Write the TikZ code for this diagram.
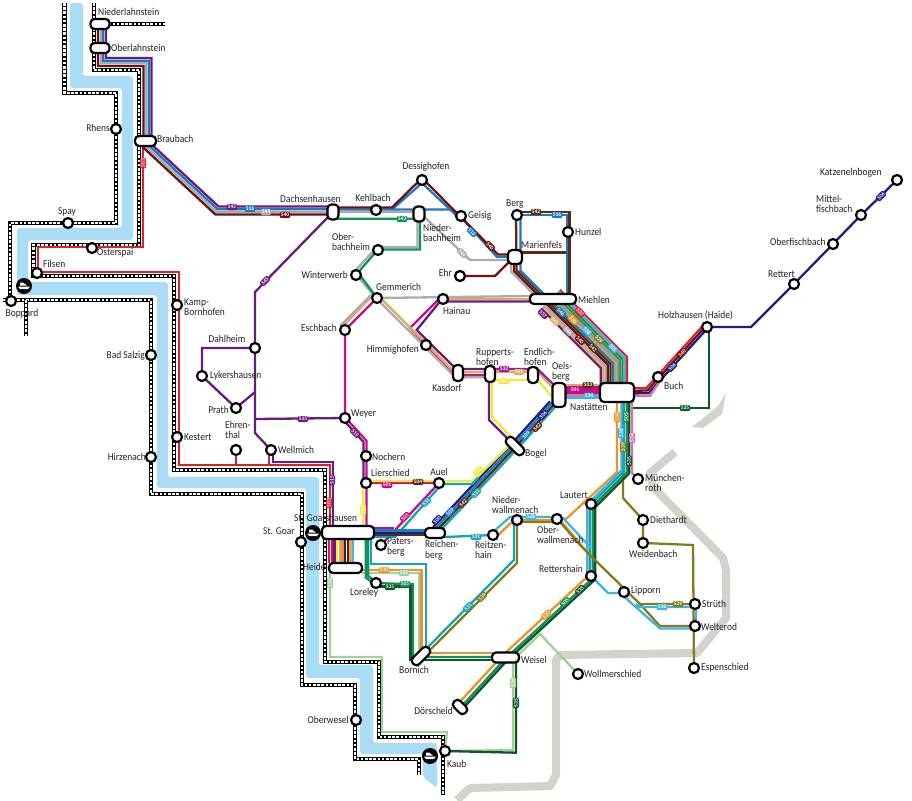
\documentclass[tikz,border=0pt]{standalone}
\usepackage{fontspec}
\setmainfont[FakeStretch=0.9]{Carlito}
\newfontfamily\pillfont{Carlito}
\definecolor{cRc}{HTML}{E2202C}\definecolor{cPc}{HTML}{6A1B80}\definecolor{cBc}{HTML}{1F78BC}
\definecolor{cGc}{HTML}{A9ABAE}\definecolor{cDc}{HTML}{6B1212}\definecolor{cDBc}{HTML}{5B2A14}
\definecolor{cGrc}{HTML}{12915A}\definecolor{cDGc}{HTML}{0E5528}\definecolor{cPGc}{HTML}{A3CF98}
\definecolor{cOc}{HTML}{EE9328}\definecolor{cTc}{HTML}{DDAB63}\definecolor{cSc}{HTML}{3DB5E0}
\definecolor{cTec}{HTML}{17A2B8}\definecolor{cNc}{HTML}{1C1F80}\definecolor{cBlc}{HTML}{1A80C8}
\definecolor{cYc}{HTML}{F2EA38}\definecolor{cMc}{HTML}{C90F80}\definecolor{cPkc}{HTML}{DF6FA8}
\definecolor{cOlc}{HTML}{857A1C}\definecolor{cPuc}{HTML}{A01C90}\definecolor{river}{HTML}{A9DDF6}
\definecolor{land}{HTML}{D3D2CC}\definecolor{ink}{HTML}{222222}
\pgfdeclarelayer{front}\pgfsetlayers{main,front}
\tikzset{
 lw/.style={line width=2.3pt,line join=miter,miter limit=6},
 cR/.style={lw,draw=cRc,line width=2pt},cP/.style={lw,draw=cPc},cB/.style={lw,draw=cBc},
 cG/.style={lw,draw=cGc},cD/.style={lw,draw=cDc},cDB/.style={lw,draw=cDBc},
 cGr/.style={lw,draw=cGrc},cDG/.style={lw,draw=cDGc},cPG/.style={lw,draw=cPGc},
 cO/.style={lw,draw=cOc},cT/.style={lw,draw=cTc},cS/.style={lw,draw=cSc},
 cTe/.style={lw,draw=cTec},cN/.style={lw,draw=cNc},cBl/.style={lw,draw=cBlc},
 cY/.style={lw,draw=cYc},cM/.style={lw,draw=cMc},cPk/.style={lw,draw=cPkc},
 cOl/.style={lw,draw=cOlc},cPu/.style={lw,draw=cPuc},
 railb/.style={draw=black,line width=4.8pt,line join=miter},
 railw/.style={draw=white,line width=2.2pt,dash pattern=on 2.6pt off 1.6pt},
 stn/.style={circle,draw=black,fill=white,line width=2.2pt,minimum size=10pt,inner sep=0pt},
 capn/.style={rectangle,rounded corners=4pt,draw=black,fill=white,line width=2.2pt,inner sep=0pt},
 lab/.style={inner sep=0pt,align=left,text=ink,font=\fontsize{10.5}{10.5}\selectfont},
 pill/.style={rectangle,rounded corners=2pt,inner sep=1.2pt,text=white,font=\pillfont\fontsize{5.5}{5.5}\selectfont\bfseries},
 landl/.style={draw=land,line width=8pt,line join=round},
}
\makeatletter
\newcount\rN
\newcount\plc
\newcommand\route[3]{%
 \global\rN=0
 \foreach \rP in {#3}{%
  \global\advance\rN by 1
  \expandafter\tikz@scan@one@point\expandafter\pgfutil@firstofone\rP\relax
  \expandafter\xdef\csname rX\the\rN\endcsname{\strip@pt\pgf@x}%
  \expandafter\xdef\csname rY\the\rN\endcsname{\strip@pt\pgf@y}%
 }%
 \edef\rLast{\the\rN}%
 \gdef\rPath{}%
 \foreach \rI in {1,...,\rLast}{%
  \pgfmathtruncatemacro\ra{max(\rI,2)}%
  \pgfmathtruncatemacro\rap{\ra-1}%
  \pgfmathtruncatemacro\rb{min(\rI+1,\rLast)}%
  \pgfmathtruncatemacro\rbp{\rb-1}%
  \edef\xa{\csname rX\ra\endcsname}\edef\xb{\csname rX\rap\endcsname}%
  \edef\ya{\csname rY\ra\endcsname}\edef\yb{\csname rY\rap\endcsname}%
  \edef\xc{\csname rX\rb\endcsname}\edef\xd{\csname rX\rbp\endcsname}%
  \edef\yc{\csname rY\rb\endcsname}\edef\yd{\csname rY\rbp\endcsname}%
  \edef\xi{\csname rX\rI\endcsname}\edef\yi{\csname rY\rI\endcsname}%
  \pgfmathsetmacro\ux{(\xa)-(\xb)}\pgfmathsetmacro\uy{(\ya)-(\yb)}%
  \pgfmathsetmacro\vx{(\xc)-(\xd)}\pgfmathsetmacro\vy{(\yc)-(\yd)}%
  \pgfmathsetmacro\lu{veclen(\ux,\uy)}\pgfmathsetmacro\lv{veclen(\vx,\vy)}%
  \pgfmathsetmacro\nax{-(\uy)/\lu}\pgfmathsetmacro\nay{(\ux)/\lu}%
  \pgfmathsetmacro\nbx{-(\vy)/\lv}\pgfmathsetmacro\nby{(\vx)/\lv}%
  \pgfmathsetmacro\rk{(#1)/(1+(\nax)*(\nbx)+(\nay)*(\nby))}%
  \pgfmathsetmacro\fx{(\xi)+(\rk)*((\nax)+(\nbx))}%
  \pgfmathsetmacro\fy{(\yi)+(\rk)*((\nay)+(\nby))}%
  \xdef\rPath{\rPath\ifnum\rI=1 \else -- \fi(\fx pt,\fy pt) }%
 }%
 \edef\rTmp{\noexpand\draw[#2] \rPath;}\rTmp
}
\makeatother
\newcommand\bundle[2]{\foreach \rO/\rS in {#1}{\route{\rO}{\rS}{#2}}}
\newcommand\rail[1]{\route{0}{railb}{#1}\route{0}{railw}{#1}}
\newcommand\st[3]{\node[stn] (#1) at (#2,#3) {};}
\newcommand\cp[6][0]{\node[capn,minimum width=#5pt,minimum height=#6pt,rotate=#1] (#2) at (#3,#4) {};}
\newcommand\tl[5]{\node[lab,anchor=#2] (t#1) at (#3,#4) {#5};}
\newcommand\pl[5][0]{\global\advance\plc by 1 \node[pill,fill=#5c,rotate=#1] (p\the\plc) at (#2,#3) {#4};}
\newcommand\ship[3]{\node[circle,fill=black,minimum size=16pt,inner sep=0pt] (#1) at (#2,#3) {};
 \fill[white,shift={(#2,#3)}] (-6,0.5)--(6,0.5)--(4,3)--(-4,3)--cycle (-4,-3.5)--(-1,-3.5)--(3,-0.4)--(-4,-0.4)--cycle;}
\begin{document}
\begin{tikzpicture}[x=1pt,y=-1pt]
\useasboundingbox (0,0) rectangle (912,800);
\fill[white] (0,0) rectangle (912,800);
% ---------- stations and labels (front layer)
\begin{pgfonlayer}{front}
\cp{nieder}{100}{24}{19}{10}\cp{ober}{100}{48}{19}{10}\cp{braubach}{145.5}{141}{21}{10}
\st{rhens}{116}{129}\st{spay}{68}{223}\st{osterspai}{92}{248}\st{filsen}{37}{273}\st{boppard}{11}{301}
\st{kamp}{177}{305}\st{salzig}{151}{355}\st{hirzenach}{151}{457}\st{kestert}{177}{437}
\st{dahlheim}{255}{348}\st{lyker}{202}{376}\st{prath}{236}{408}\st{ehrenthal}{236}{450}\st{wellmich}{271}{450}
\cp{dachsen}{333}{212}{11}{15}\st{kehlbach}{376}{210}\st{dessig}{422}{180}\cp{nbach}{419}{214}{11}{15}
\st{geisig}{461}{216}\st{berg}{517}{215}\st{hunzel}{568}{232}\cp{marien}{515}{257}{14}{14}\st{ehr}{460}{276}
\st{obach}{378}{250}\st{winter}{356}{275}\st{gemm}{377}{298}\st{hainau}{443}{299}\st{eschbach}{345}{330}
\st{himmig}{426}{345}\cp{kasdorf}{458}{373}{10}{16}\cp{rupp}{490}{374}{10}{16}\cp{endlich}{533}{375}{10}{16}
\cp{oels}{559}{395}{13}{24}\cp{miehlen}{553}{299}{46}{10}\cp{nast}{617}{392.5}{34}{19}
\st{weyer}{345}{418}\st{nochern}{366}{456}\st{lier}{366}{483}\st{auel}{439}{483}
\cp{goars}{348}{532.5}{52}{13}\st{sgoar}{301}{542}\cp{heide}{345.5}{568}{33}{10}\st{loreley}{376}{583}
\st{paters}{381}{545}\cp{reichen}{435}{533}{20}{10}\st{reitzen}{493}{535}\st{nwall}{517}{520}\st{owall}{557}{519}
\st{lautert}{591}{504}\st{retters}{591}{576}\st{lipporn}{624}{592}\st{strueth}{695}{604}\st{welterod}{695}{626}
\st{espen}{694}{668}\st{diet}{643}{520}\st{weiden}{643}{543}\st{muench}{638}{479}\st{buch}{658}{377}
\st{holz}{707}{327}\st{rettert}{794}{284}\st{ofisch}{833}{244}\st{mfisch}{861}{215}\st{katz}{897}{180}
\cp[-45]{bogel}{515}{446}{22}{9}\cp[45]{bornich}{421}{656}{22}{9}\cp{weisel}{505.5}{657.5}{27}{10}
\cp[-45]{doersch}{460}{707}{16}{9}\st{wollm}{578}{674}\st{kaub}{445}{751}\st{oberwesel}{356}{720}
\ship{shipa}{24}{286}\ship{shipb}{313}{533}\ship{shipc}{430}{756}
\tl{a1}{west}{98}{12}{Niederlahnstein}\tl{a2}{west}{111}{48}{Oberlahnstein}\tl{a3}{east}{110}{128}{Rhens}
\tl{a4}{west}{157}{139}{Braubach}\tl{a5}{center}{67}{212}{Spay}\tl{a6}{west}{97}{253}{Osterspai}
\tl{a7}{west}{43}{264}{Filsen}\tl{a8}{center}{22}{314}{Boppard}\tl{a9}{west}{184}{307}{Kamp-\\Bornhofen}
\tl{b1}{east}{145}{356}{Bad Salzig}\tl{b2}{east}{146}{457}{Hirzenach}\tl{b3}{west}{184}{437}{Kestert}
\tl{b4}{center}{227}{339}{Dahlheim}\tl{b5}{west}{210}{376}{Lykershausen}\tl{b6}{east}{229}{410}{Prath}
\tl{b7}{west}{225}{430}{Ehren-\\thal}\tl{b8}{west}{278}{450}{Wellmich}\tl{b9}{west}{280}{199}{Dachsenhausen}
\tl{c1}{center}{373}{198}{Kehlbach}\tl{c2}{center}{426}{167}{Dessighofen}\tl{c3}{west}{468}{216}{Geisig}
\tl{c4}{west}{423}{233}{Nieder-\\bachheim}\tl{c5}{west}{332}{242}{Ober-\\bachheim}\tl{c6}{east}{348}{275}{Winterwerb}
\tl{c7}{west}{376}{287}{Gemmerich}\tl{c8}{west}{443}{311}{Hainau}\tl{c9}{east}{337}{328}{Eschbach}
\tl{d1}{east}{419}{350}{Himmighofen}\tl{d2}{center}{447}{388}{Kasdorf}\tl{d3}{west}{476}{357}{Rupperts-\\hofen}
\tl{d4}{west}{524}{357}{Endlich-\\hofen}\tl{d5}{west}{552}{372}{Oels-\\berg}\tl{d6}{west}{570}{407}{Nastätten}
\tl{d7}{west}{578}{300}{Miehlen}\tl{d8}{west}{506}{204}{Berg}\tl{d9}{west}{575}{232}{Hunzel}
\tl{e1}{west}{521}{245}{Marienfels}\tl{e2}{east}{452}{273}{Ehr}\tl{e3}{west}{351}{414}{Weyer}
\tl{e4}{west}{372}{457}{Nochern}\tl{e5}{west}{371}{473}{Lierschied}\tl{e6}{center}{439}{472}{Auel}
\tl{e7}{west}{525}{454}{Bogel}\tl{e8}{west}{664}{386}{Buch}\tl{e9}{west}{658}{315}{Holzhausen (Haide)}
\tl{f1}{west}{820}{173}{Katzenelnbogen}\tl{f2}{west}{816}{204}{Mittel-\\fischbach}\tl{f3}{west}{770}{242}{Oberfischbach}
\tl{f4}{west}{768}{274}{Rettert}\tl{f5}{west}{294}{518}{St. Goarshausen}\tl{f6}{west}{263}{531}{St. Goar}
\tl{f7}{west}{303}{567}{Heide}\tl{f8}{west}{350}{593}{Loreley}\tl{f9}{west}{387}{547}{Paters-\\berg}
\tl{g1}{west}{425}{550}{Reichen-\\berg}\tl{g2}{west}{475}{550}{Reitzen-\\hain}\tl{g3}{west}{492}{505}{Nieder-\\wallmenach}
\tl{g4}{west}{537}{535}{Ober-\\wallmenach}\tl{g5}{center}{574}{495}{Lautert}\tl{g6}{west}{539}{569}{Rettershain}
\tl{g7}{west}{631}{591}{Lipporn}\tl{g8}{west}{702}{604}{Strüth}\tl{g9}{west}{701}{627}{Welterod}
\tl{h1}{west}{701}{668}{Espenschied}\tl{h2}{west}{650}{520}{Diethardt}\tl{h3}{west}{629}{554}{Weidenbach}
\tl{h4}{west}{645}{483}{München-\\roth}\tl{h5}{west}{584}{674}{Wollmerschied}\tl{h6}{west}{521}{660}{Weisel}
\tl{h7}{center}{414}{670}{Bornich}\tl{h8}{east}{453}{711}{Dörscheid}\tl{h9}{east}{349}{720}{Oberwesel}
\tl{i1}{west}{447}{764}{Kaub}
% route labels
\pl[90]{143}{163}{503}{cR}\pl[90]{329}{503}{503}{cR}\pl[90]{332}{480}{515}{cP}
\pl{232}{207}{545}{cP}\pl{250}{209}{516}{cB}\pl{266}{212}{544}{cG}\pl{285}{215}{540}{cD}
\pl[45]{265}{281}{545}{cP}\pl{303}{419}{515}{cP}\pl[-45]{355}{433}{515}{cP}
\pl{402}{219}{543}{cGr}\pl[-45]{472}{232}{516}{cB}\pl[-45]{490}{246}{540}{cD}\pl[-45]{462}{253}{544}{cG}
\pl{536}{212}{542}{cDB}\pl{557}{215}{516}{cB}\pl{504}{369}{532}{cPu}\pl{519}{372}{541}{cT}\pl{504}{381}{507}{cY}
\pl{588}{385}{503}{cDB}\pl{575}{390}{501}{cM}\pl{589}{396}{534}{cS}
\pl[-45]{580}{312}{533}{cR}\pl[-45]{543}{314}{537}{cP}\pl[-45]{555}{321}{541}{cT}\pl[-45]{568}{331}{544}{cG}
\pl[-45]{580}{340}{540}{cD}\pl[-45]{593}{348}{542}{cDB}\pl[-45]{561}{312}{546}{cB}\pl[-45]{573}{320}{530}{cO}
\pl[-45]{587}{331}{538}{cS}\pl[-45]{599}{339}{539}{cOl}\pl[-45]{613}{348}{505}{cS}
\pl[90]{617}{417}{530}{cO}\pl[90]{626}{417}{505}{cGr}\pl[90]{621}{433}{538}{cS}\pl[90]{623}{447}{539}{cOl}
\pl[90]{632}{438}{534}{cPk}\pl[90]{629}{461}{535}{cDG}
\pl[45]{672}{367}{506}{cN}\pl[45]{682}{353}{540}{cD}\pl{685}{408}{535}{cDG}\pl[45]{881}{196}{506}{cN}
\pl[90]{363}{510}{507}{cY}\pl{387}{485}{501}{cM}\pl{418}{482}{504}{cDB}
\pl[45]{405}{517}{501}{cM}\pl[45]{426}{502}{531}{cTe}
\pl[45]{437}{520}{500}{cN}\pl[45]{450}{512}{509}{cBl}\pl[45]{463}{503}{542}{cDB}\pl[45]{476}{493}{531}{cTe}\pl[45]{478}{471}{507}{cY}
\pl[45]{526}{435}{509}{cBl}\pl[45]{537}{427}{542}{cDB}\pl[45]{543}{415}{506}{cN}
\pl{384}{570}{530}{cO}\pl{404}{573}{535}{cPG}\pl{390}{587}{535}{cDG}\pl{405}{584}{505}{cGr}\pl[90]{330}{583}{536}{cPG}
\pl{476}{537}{531}{cTe}\pl{531}{517}{538}{cS}\pl[45]{468}{607}{531}{cTe}\pl[45]{482}{597}{539}{cOl}
\pl[45]{546}{615}{530}{cO}\pl[45]{565}{602}{505}{cGr}\pl[45]{580}{590}{535}{cDG}
\pl{662}{607}{538}{cS}\pl{678}{604}{539}{cOl}\pl[90]{513}{683}{536}{cPG}\pl[90]{516}{703}{535}{cDG}
\end{pgfonlayer}
% ---------- land outline
\fill[land] (692,427)--(718,406)--(726,393)--(722,414)--(703,428)--cycle;
\draw[landl,line join=round] (675,452)--(650,473)--(653,487)--(723,558)--(726,570)--(726,618)--(697,653)--(560,655)--(556,660)--(556,775)--(550,786)--(470,788)--(457,800);
% ---------- river
\fill[river,rounded corners=3pt] (70,3)--(70,88)--(122,88)--(122,228)--(17,228)--(17,295)--(157,295)--(157,488)--(306,488)--(306,678)--(360,678)--(360,754)--(423,754)--(423,777)--(437,788)--(437,743)--(373,743)--(373,665)--(319,665)--(319,477)--(168,477)--(168,282)--(28,282)--(28,240)--(133,240)--(133,76)--(83,76)--(83,3)--cycle;
% ---------- railways
\rail{(64.5,3),(64.5,93),(116,93),(116,223),(10,223),(10,300),(151,300),(151,494),(302,494),(302,685),(355,685),(355,759),(419,759),(419,775)}
\rail{(26,300),(26,336)}
\rail{(3,300),(10,300)}
\rail{(94,3),(94,70),(139,70),(139,245),(33.5,245),(33.5,276),(174,276),(174,470),(325,470),(325,662),(379,662),(379,737),(443,737),(443,795)}
\rail{(100,24),(165,24)}
% ---------- top bundle
\route{0}{cR}{(143,146),(143,247),(38,247),(38,272),(179,272),(179,465),(330,465),(330,527)}
\route{0}{cR}{(ehrenthal),(236,465)}
\route{0}{cR}{(269,450),(269,465)}
\route{0}{cP}{(273,450),(273,462),(333,462),(333,527)}
\bundle{4/cP,1.3/cB,-1.3/cG,-4/cD}{(102,24),(102,62),(147.5,62),(147.5,146),(217,210.5),(333,210.5)}
\route{0}{cP}{(dachsen),(255,292),(255,433),(wellmich)}
\route{0}{cP}{(dahlheim),(202,348),(lyker),(prath),(255,392)}
\route{0}{cP}{(255,419),(weyer)}
% Dachsenhausen - Marienfels
\route{0}{cG}{(333,212),(419,212),(470,260),(510,260)}
\route{0}{cB}{(392,209.5),(422,183),(458,217)}
\route{0}{cB}{(333,209.5),(450,209.5),(461,217),(497,257),(512,257)}
\route{0}{cD}{(333,207.5),(392,207.5),(422,178),(498,254.5),(510,254.5)}
\route{0}{cG}{(417.5,214),(417.5,247),(377,247),(354,272),(375,297)}
\route{0}{cGr}{(333,218.7),(420,218.7),(420,249.5),(378,249.5),(358,272.5),(377,298)}
\route{0}{cD}{(ehr),(495,276),(512,259)}
\route{0}{cDB}{(515,252.5),(569,252.5)}
\route{0}{cDB}{(516,212),(569.5,212),(569.5,294)}
\route{0}{cB}{(517,215),(567,215),(567,295)}
\route{0}{cDB}{(516,215),(516.5,270),(545.4,299)}
\route{0}{cB}{(520.5,215),(520.5,270.7),(548.8,299)}
\route{0}{cD}{(514,258),(514,271),(542,299)}
\route{0}{cG}{(511,258),(511,271.4),(538.6,299)}
% Gemmerich, Hainau, Kasdorf
\route{0}{cM}{(gemm),(348,327),(345,330),(weyer)}
\route{0}{cT}{(373,295),(342,327)}
\route{0}{cG}{(371,295),(340,326)}
\route{0}{cM}{(439,299),(410,328),(454,375)}
\route{0}{cG}{(gemm),(530,296)}
\route{0}{cT}{(443,298.7),(530,298.7)}
\route{0}{cP}{(530,301.5),(440,301.5),(416.7,330),(456,369),(490,369)}
\route{0}{cG}{(378,300),(452.5,374.5),(458,377.2),(490,377.2)}
\route{0}{cT}{(381,298.5),(455.5,373),(458,372),(538,372),(552,387)}
\route{0}{cM}{(458,374.7),(490,374.7)}
\route{0}{cPu}{(490,369),(533,369),(538,369.5),(554,385)}
\route{0}{cY}{(492,380),(538,380),(553,398)}
\route{0}{cY}{(492,380),(492,417),(515,441)}
\route{0}{cP}{(489,377),(489,420),(509,440)}
\route{0}{cT}{(559,385),(600,385)}
\route{0}{cPu}{(559,387.5),(600,387.5)}
\route{0}{cM}{(559,390),(600,390)}
\route{0}{cM}{(559,392.5),(600,392.5)}
\route{0}{cPk}{(559,395),(600,395)}
\route{0}{cS}{(559,397.5),(600,397.5)}
% Miehlen - Nastaetten
\bundle{-13.2/cP,-10.8/cT,-8.4/cG,-6/cD,-3.6/cDB,-1.2/cB,1.2/cO,3.6/cS,6/cOl,8.4/cGr,10.8/cS,13.2/cR}{(550.5,299),(614,362.5),(614,392)}
% east
\bundle{4/cR,1.5/cD,-1.2/cN}{(nast),(648,392),(707,327)}
\route{-3.8}{cPk}{(nast),(648,392),(buch)}
\route{0}{cN}{(holz),(751,327),(rettert),(ofisch),(mfisch),(katz)}
\route{0}{cDG}{(709,327),(709,408),(633,408)}
% south of Nastaetten
\route{0}{cPk}{(632,402),(632,473),(muench)}
\route{0}{cOl}{(623,402),(623,498),(diet),(weiden),(693,545),(espen)}
\route{0}{cO}{(617,402),(617,472),(566,519),(owall)}
\route{0}{cO}{(590,498),(587,501),(587,577),(502,656),(458,704)}
\bundle{-4.5/cS,-2/cTe}{(626,402),(626,472),(592,506),(592,578)}
\bundle{0.7/cGr,3.2/cDG}{(626,402),(626,472),(592,506),(592,578),(505,658),(460,707)}
% Oberwallmenach and east
\route{0}{cS}{(517,517),(557,517),(563,518),(591,548)}
\route{0}{cO}{(517,520),(557,520),(560,520),(587,552)}
\route{0}{cOl}{(517,522),(557,522),(560,522),(580,545),(597,562),(640,604),(693,604)}
\route{0}{cOl}{(640,604),(660,626),(693,626)}
\route{0}{cS}{(595,580),(608,593),(620,593),(660,628.5),(696,628.5),(696,607),(640,607),(636,604)}
% Niederwallmenach, Reitzenhain
\route{0}{cS}{(493,532),(510,517),(517,517)}
\route{0}{cO}{(497,536),(512,522),(517,522)}
\route{0}{cTe}{(445,537),(reitzen)}
\route{0}{cTe}{(514,523),(514,560),(427,648)}
\route{0}{cOl}{(517,523),(517,563),(431,649)}
% Bogel bundle
\bundle{-4/cN,-1.5/cBl,1/cDB,3.5/cTe}{(553,404),(515,446),(436,530)}
\route{0}{cM}{(auel),(paters)}
\route{0}{cTe}{(441,485),(395,537),(374,537)}
\route{0}{cM}{(374,528),(394,528)}
\route{0}{cBl}{(374,530.5),(425,530.5)}
\route{0}{cN}{(374,533),(425,533)}
\route{0}{cDB}{(374,535.3),(425,535.3)}
\route{0}{cM}{(lier),(auel)}
\route{0}{cY}{(366,481),(473,481),(515,440)}
\route{0}{cTe}{(443,484),(472,484),(478,478)}
\route{-2.5}{cP}{(weyer),(366,441),(lier)}
\route{0.5}{cM}{(weyer),(366,441),(lier),(366,526)}
\route{0}{cY}{(363,484),(363,526)}
% St. Goarshausen - Heide stripes
\foreach \qx/\qc in {329/cR,331.7/cM,334.4/cP,337.1/cY,339.8/cT,342.5/cO,345.2/cN,347.9/cD,350.6/cT,353.3/cS}{\route{0}{\qc}{(\qx,539),(\qx,563)}}
% to Bornich and Weisel
\route{0}{cPG}{(330,573),(330,657),(382,657),(382,732),(447,732),(kaub)}
\route{0}{cPG}{(kaub),(513,750),(513,660),(540,634),(wollm)}
\route{0}{cDG}{(kaub),(516,752.7),(516,660)}
\route{0}{cTe}{(371,539),(371,564),(426,564),(426,650)}
\route{0}{cO}{(355,570),(421.5,570),(421.5,650)}
\route{0}{cO}{(423,653),(505,653)}
\route{0}{cPG}{(362,573),(419,573),(419,650)}
\bundle{-1.3/cGr,1.3/cGr}{(367,539),(367,577),(loreley)}
\route{0}{cGr}{(loreley),(413,584.3),(413,657),(505,657)}
\route{0}{cDG}{(380,586.5),(410.5,586.5),(410.5,660),(505,660)}
\end{tikzpicture}
\end{document}
